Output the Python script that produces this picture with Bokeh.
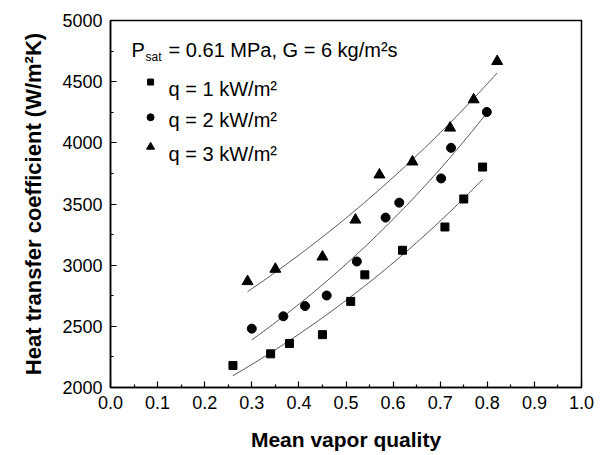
import numpy as np
from bokeh.plotting import figure
from bokeh.models import Range1d, FixedTicker, PrintfTickFormatter, Label
from bokeh.embed import file_html
from bokeh.resources import INLINE

# ---- data ----
x_q1 = [0.26, 0.34, 0.38, 0.45, 0.51, 0.54, 0.62, 0.71, 0.75, 0.79]
h_q1 = [2180, 2275, 2360, 2432, 2704, 2921, 3122, 3312, 3541, 3802]

x_q2 = [0.30, 0.367, 0.413, 0.459, 0.523, 0.584, 0.613, 0.702, 0.723, 0.799]
h_q2 = [2481, 2582, 2666, 2752, 3030, 3389, 3511, 3709, 3959, 4252]

x_q3 = [0.291, 0.350, 0.450, 0.520, 0.571, 0.641, 0.721, 0.771, 0.821]
h_q3 = [2867, 2968, 3068, 3370, 3739, 3845, 4122, 4353, 4666]

series_labels = ["q = 1 kW/m\u00b2", "q = 2 kW/m\u00b2", "q = 3 kW/m\u00b2"]
x_ticks = [0.0, 0.1, 0.2, 0.3, 0.4, 0.5, 0.6, 0.7, 0.8, 0.9, 1.0]
y_ticks = [2000, 2500, 3000, 3500, 4000, 4500, 5000]

FONT = "Liberation Sans"

W, H = 604, 453
p = figure(width=W, height=H, output_backend="svg", toolbar_location=None,
           x_range=Range1d(0, 1), y_range=Range1d(2000, 5000),
           min_border_left=110, min_border_top=20, min_border_right=W - 581,
           min_border_bottom=H - 388)

p.grid.visible = False
p.background_fill_color = "white"
p.border_fill_color = "white"
p.outline_line_color = "black"
p.outline_line_width = 1.5

xminor = [t + 0.05 for t in x_ticks[:-1]]
yminor = [t + 250 for t in y_ticks[:-1]]
p.xaxis.ticker = FixedTicker(ticks=x_ticks, minor_ticks=xminor)
p.yaxis.ticker = FixedTicker(ticks=y_ticks, minor_ticks=yminor)
p.xaxis.formatter = PrintfTickFormatter(format="%.1f")
p.yaxis.formatter = PrintfTickFormatter(format="%d")

for ax in (p.xaxis, p.yaxis):
    ax.axis_line_width = 1.5
    ax.axis_line_color = "black"
    ax.major_tick_in = 6
    ax.major_tick_out = 0
    ax.minor_tick_in = 3
    ax.minor_tick_out = 0
    ax.major_tick_line_width = 1.2
    ax.minor_tick_line_width = 1.2
    ax.major_label_text_font = FONT
    ax.major_label_text_font_size = "18px"
    ax.major_label_text_color = "black"
    ax.axis_label_text_font = FONT
    ax.axis_label_text_font_style = "bold"
    ax.axis_label_text_color = "black"

p.xaxis.axis_label_text_font_size = "21px"
p.yaxis.axis_label_text_font_size = "22px"
p.xaxis.axis_label = "Mean vapor quality"
p.yaxis.axis_label = "Heat transfer coefficient (W/m\u00b2K)"
p.xaxis.major_label_standoff = 8
p.xaxis.axis_label_standoff = 16
p.yaxis.major_label_standoff = 8
p.yaxis.axis_label_standoff = 13

# fitted trend curves (exponential fit of each series)
def fit_curve(xs, hs):
    b, a = np.polyfit(np.array(xs), np.log(np.array(hs)), 1)
    xx = np.linspace(min(xs), max(xs), 80)
    return xx, np.exp(a + b * xx)

for xs, hs in ((x_q1, h_q1), (x_q2, h_q2), (x_q3, h_q3)):
    xx, yy = fit_curve(xs, hs)
    p.line(xx, yy, line_color="#555555", line_width=1)

p.scatter(x_q1, h_q1, marker="square", size=8, color="black")
p.scatter(x_q2, h_q2, marker="circle", size=9, color="black")
p.scatter(x_q3, h_q3, marker="triangle", size=11, color="black")

# legend / annotation (inside plot, top-left)
p.add_layout(Label(x=0.0447, y=4755, text="P", text_font=FONT, text_font_size="20px",
                   text_color="black", text_baseline="alphabetic"))
p.add_layout(Label(x=0.0745, y=4698, text="sat", text_font=FONT, text_font_size="12px",
                   text_color="black", text_baseline="alphabetic"))
p.add_layout(Label(x=0.1234, y=4755, text="= 0.61 MPa, G = 6 kg/m\u00b2s", text_font=FONT,
                   text_font_size="20px", text_color="black", text_baseline="alphabetic"))

leg_x = [0.0851, 0.0851, 0.0851]
leg_y = [4497, 4209, 3967]
p.scatter([leg_x[0]], [leg_y[0]], marker="square", size=6, color="black")
p.scatter([leg_x[1]], [leg_y[1]], marker="circle", size=7, color="black")
p.scatter([leg_x[2]], [leg_y[2]], marker="triangle", size=8, color="black")
for lab, yb in zip(series_labels, [4437, 4185, 3908]):
    p.add_layout(Label(x=0.1234, y=yb, text=lab, text_font=FONT, text_font_size="20px",
                       text_color="black", text_baseline="alphabetic"))

open("out.html", "w").write(file_html(p, INLINE))
